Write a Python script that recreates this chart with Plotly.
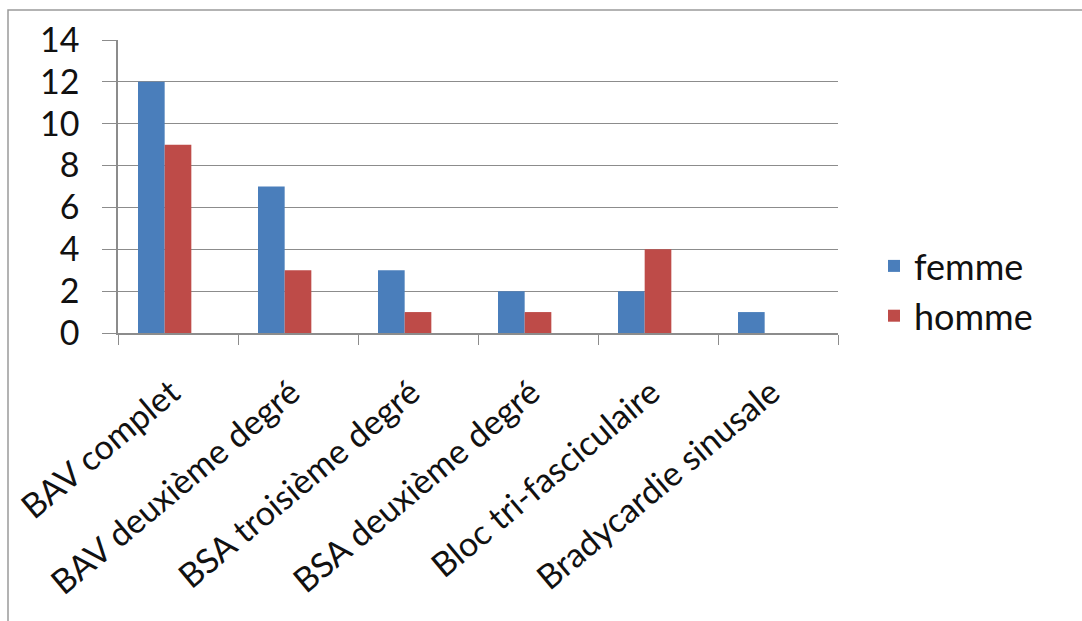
import plotly.graph_objects as go

categories = ["BAV complet", "BAV deuxième degré", "BSA troisième degré",
              "BSA deuxième degré", "Bloc tri-fasciculaire", "Bradycardie sinusale"]
femme = [12, 7, 3, 2, 2, 1]
homme = [9, 3, 1, 1, 4, 0]
y_ticks = [0, 2, 4, 6, 8, 10, 12, 14]

W, H = 1082, 621
L, R, T, B = 118, 838, 40, 333

fig = go.Figure()
fig.add_trace(go.Bar(name="femme", x=categories, y=femme, marker_color="#4A7EBB", marker_line_width=0))
fig.add_trace(go.Bar(name="homme", x=categories, y=homme, marker_color="#BE4B48", marker_line_width=0))
fig.add_trace(go.Bar(name="", x=categories, y=[None] * len(categories), showlegend=False, hoverinfo="skip"))

font = "Lato, Open Sans, sans-serif"
fig.update_layout(
    width=W, height=H,
    margin=dict(l=L, r=W - R, t=T, b=H - B, autoexpand=False),
    paper_bgcolor="white", plot_bgcolor="white",
    barmode="group", bargap=1/3, bargroupgap=0,
    font=dict(family=font, size=34, color="#111111"),
    legend=dict(x=(874 - L) / (R - L), y=(B - 291) / (B - T), xanchor="left", yanchor="middle",
                font=dict(size=36), itemwidth=30, tracegroupgap=0, bgcolor="rgba(0,0,0,0)"),
    showlegend=True,
)
fig.update_xaxes(type="category", tickangle=-40, tickson="boundaries", ticks="outside", ticklen=10,
                 tickcolor="#8c8c8c", showline=True, linecolor="#8c8c8c", linewidth=1.5,
                 showgrid=False, tickfont=dict(size=34), ticklabelstandoff=19, automargin=False,
                 tickvals=categories, ticktext=[c + "\u00a0" for c in categories])
fig.update_yaxes(range=[0, 14], tickvals=y_ticks, ticks="outside", ticklen=14, tickcolor="#8c8c8c",
                 showline=True, linecolor="#8c8c8c", linewidth=1.5, showgrid=True, gridcolor="#8c8c8c",
                 gridwidth=1.2, zeroline=False, tickfont=dict(size=34), ticklabelstandoff=16,
                 automargin=False)

# outer chart border (top and left edges visible)
fig.add_shape(type="rect", xref="paper", yref="paper",
              x0=(8 - L) / (R - L), x1=(1100 - L) / (R - L),
              y0=(B - 640) / (B - T), y1=(B - 10) / (B - T),
              line=dict(color="#9a9a9a", width=1.5), fillcolor="rgba(0,0,0,0)", layer="below")

fig.write_html("out.html")
